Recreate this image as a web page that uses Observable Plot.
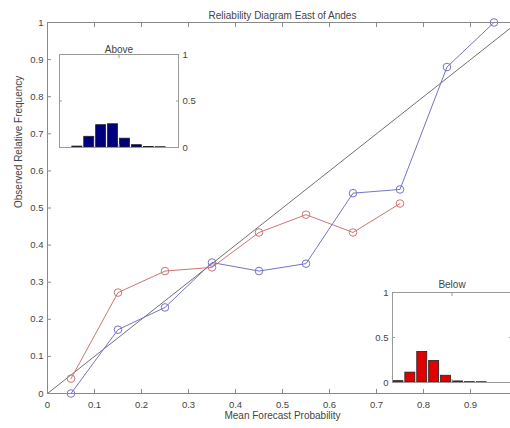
<!DOCTYPE html>
<html><head><meta charset="utf-8">
<script src="https://cdn.jsdelivr.net/npm/d3@7"></script>
<script src="https://cdn.jsdelivr.net/npm/@observablehq/plot@0.6"></script>
<style>
body{margin:0;background:#fff;}
#wrap{position:relative;width:510px;height:428px;overflow:hidden;}
#wrap svg{position:absolute;}
</style></head><body><div id="wrap"></div>
<script>
const title = "Reliability Diagram East of Andes";
const xLabel = "Mean Forecast Probability";
const yLabel = "Observed Relative Frequency";
const mainTicks = [0, 0.1, 0.2, 0.3, 0.4, 0.5, 0.6, 0.7, 0.8, 0.9, 1];
const xTickLabels = [0, 0.1, 0.2, 0.3, 0.4, 0.5, 0.6, 0.7, 0.8, 0.9];
const diagonal = [0, 1];

const aboveForecast = [0.05, 0.15, 0.25, 0.35, 0.45, 0.55, 0.65, 0.75, 0.85, 0.95];
const aboveObserved = [0.0, 0.172, 0.232, 0.353, 0.33, 0.35, 0.54, 0.55, 0.88, 1.0];
const belowForecast = [0.05, 0.15, 0.25, 0.35, 0.45, 0.55, 0.65, 0.75];
const belowObserved = [0.04, 0.272, 0.33, 0.34, 0.434, 0.482, 0.434, 0.512];

const histBins = [0.05, 0.15, 0.25, 0.35, 0.45, 0.55, 0.65, 0.75, 0.85, 0.95];
const aboveFreq = [0.0, 0.01, 0.115, 0.24, 0.25, 0.095, 0.025, 0.006, 0.003, 0.0];
const belowFreq = [0.015, 0.11, 0.34, 0.24, 0.075, 0.012, 0.004, 0.003, 0.0, 0.0];
const insetTicks = [0, 0.5, 1];
const aboveTitle = "Above";
const belowTitle = "Below";

const FONT = "'Liberation Sans', Arial, sans-serif";
const fmt = d3.format("~g");
const blank = () => "";
const axisGrey = "#8a8a8a";
const textCol = "#444";
const blue = "#7474c8";
const red = "#d07474";

const aboveData = aboveForecast.map((x, i) => ({x, y: aboveObserved[i]}));
const belowData = belowForecast.map((x, i) => ({x, y: belowObserved[i]}));
const histData = histBins.map((bin, i) => ({bin, above: aboveFreq[i], below: belowFreq[i]}));
const halfBar = 0.042;

const main = Plot.plot({
  width: 510, height: 428,
  marginLeft: 47, marginRight: -7, marginTop: 22, marginBottom: 35,
  style: {fontFamily: FONT, fontSize: "9.5px", background: "white", overflow: "hidden", left: "0px", top: "0px"},
  x: {domain: [0, 1]},
  y: {domain: [0, 1]},
  marks: [
    Plot.line(diagonal, {x: d => d, y: d => d, stroke: "#707070", strokeWidth: 1}),
    Plot.line(belowData, {x: "x", y: "y", stroke: red, strokeWidth: 1}),
    Plot.dot(belowData, {x: "x", y: "y", r: 3.8, stroke: red, fill: "none", strokeWidth: 1}),
    Plot.line(aboveData, {x: "x", y: "y", stroke: blue, strokeWidth: 1}),
    Plot.dot(aboveData, {x: "x", y: "y", r: 3.8, stroke: blue, fill: "none", strokeWidth: 1}),
    Plot.frame({stroke: axisGrey}),
    Plot.axisX(mainTicks, {anchor: "bottom", tickSize: -4, tickFormat: blank, stroke: axisGrey, label: null}),
    Plot.axisX(xTickLabels, {anchor: "bottom", tickSize: 0, tickPadding: 8, tickFormat: fmt, stroke: "none", fill: textCol, label: null}),
    Plot.axisX(mainTicks, {anchor: "top", tickSize: -4, tickFormat: blank, stroke: axisGrey, label: null}),
    Plot.axisY(mainTicks, {anchor: "left", tickSize: -4, tickPadding: 8, tickFormat: fmt, stroke: axisGrey, fill: textCol, label: null}),
    Plot.text([title], {frameAnchor: "top", dy: -11, fontSize: 10, fill: textCol}),
    Plot.text([xLabel], {frameAnchor: "bottom", dy: 25, fontSize: 10, fill: textCol}),
    Plot.text([yLabel], {frameAnchor: "left", dx: -29, rotate: -90, fontSize: 10, fill: textCol})
  ]
});

function inset(key, color, label, side, opts) {
  return Plot.plot({
    width: opts.width, height: opts.height,
    marginLeft: opts.ml, marginRight: opts.mr, marginTop: opts.mt, marginBottom: opts.mb,
    style: {fontFamily: FONT, fontSize: "9.5px", background: "transparent", overflow: "visible", left: opts.left + "px", top: opts.top + "px"},
    x: {domain: [0, 1]},
    y: {domain: [0, 1]},
    marks: [
      Plot.rectY(histData, {x1: d => d.bin - halfBar, x2: d => d.bin + halfBar, y1: 0, y2: key, fill: color, stroke: "#222", strokeWidth: 0.8}),
      Plot.frame({stroke: "#999"}),
      Plot.axisY(insetTicks, {anchor: side, tickSize: -3, tickPadding: 7, tickFormat: fmt, stroke: "#999", fill: textCol, label: null}),
      Plot.axisY(insetTicks, {anchor: side === "left" ? "right" : "left", tickSize: -3, tickFormat: blank, stroke: "#999", label: null}),
      Plot.axisX(insetTicks, {anchor: "top", tickSize: -3, tickFormat: blank, stroke: "#999", label: null}),
      Plot.axisX(insetTicks, {anchor: "bottom", tickSize: -3, tickFormat: blank, stroke: "#999", label: null}),
      Plot.text([label], {frameAnchor: "top", dy: opts.titleDy, fontSize: 10, fill: textCol})
    ]
  });
}

const above = inset("above", "#00007f", aboveTitle, "right",
  {width: 155, height: 119, ml: 10, mr: 26, mt: 22, mb: 4, left: 49, top: 32, titleDy: -9});
const below = inset("below", "#e00000", belowTitle, "left",
  {width: 139, height: 116, ml: 20, mr: 0, mt: 22, mb: 4, left: 372, top: 270, titleDy: -12});

const wrap = document.getElementById("wrap");
wrap.appendChild(main);
wrap.appendChild(above);
wrap.appendChild(below);
</script>
</body></html>
